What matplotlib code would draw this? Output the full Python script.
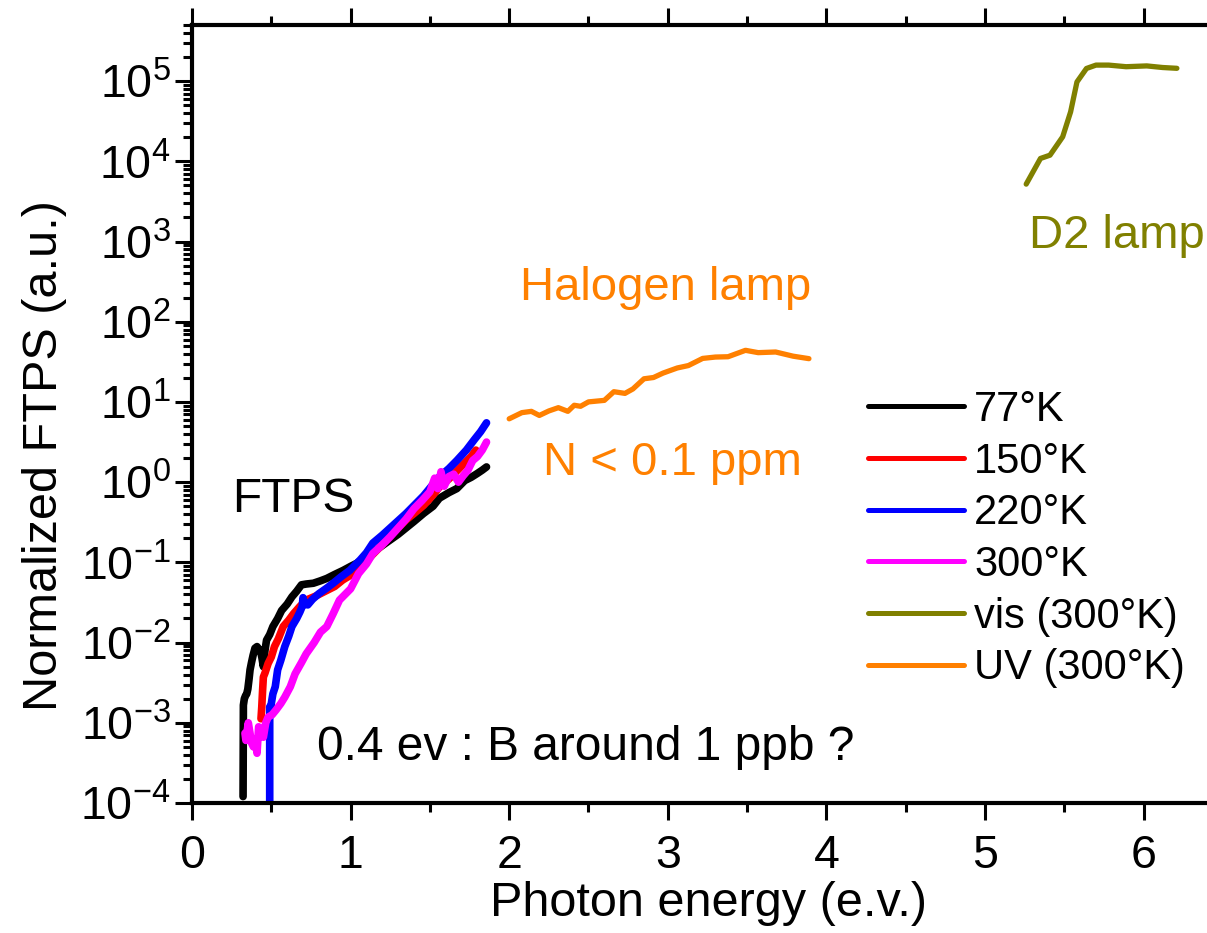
import numpy as np
import matplotlib
matplotlib.use('Agg')
import matplotlib.pyplot as plt
from matplotlib.ticker import LogLocator, MultipleLocator, NullFormatter

plt.rcParams['font.family'] = ['Liberation Sans', 'DejaVu Sans']
plt.rcParams['mathtext.fontset'] = 'custom'
plt.rcParams['mathtext.rm'] = 'Liberation Sans'
plt.rcParams['mathtext.it'] = 'Liberation Sans:italic'

# FTPS spectra (photon energy in eV, log10 of signal)
e_77 = [0.322, 0.324, 0.330, 0.338, 0.345, 0.352, 0.360, 0.366, 0.375, 0.385, 0.397,
        0.410, 0.420, 0.430, 0.440, 0.450, 0.460, 0.470, 0.490, 0.510, 0.540, 0.565,
        0.600, 0.630, 0.660, 0.690, 0.720, 0.765, 0.810, 0.850, 0.900, 0.953, 1.00,
        1.04, 1.10, 1.15, 1.20, 1.25, 1.30, 1.35, 1.40, 1.46, 1.52, 1.56, 1.62, 1.67,
        1.72, 1.76, 1.80, 1.83, 1.857]
lg_77 = [-3.92, -2.78, -2.70, -2.66, -2.64, -2.58, -2.45, -2.34, -2.25, -2.16, -2.07,
         -2.05, -2.08, -2.09, -2.18, -2.30, -2.10, -1.97, -1.90, -1.80, -1.70, -1.60,
         -1.52, -1.43, -1.36, -1.28, -1.27, -1.26, -1.23, -1.20, -1.15, -1.10, -1.05,
         -1.01, -0.93, -0.86, -0.79, -0.72, -0.65, -0.57, -0.49, -0.39, -0.30, -0.20,
         -0.13, -0.08, 0.02, 0.06, 0.11, 0.15, 0.19]

e_150 = [0.435, 0.440, 0.445, 0.450, 0.460, 0.480, 0.500, 0.520, 0.545, 0.575, 0.610,
         0.640, 0.680, 0.720, 0.780, 0.850, 0.900, 0.950, 1.00, 1.04, 1.10, 1.15, 1.20,
         1.25, 1.30, 1.35, 1.40, 1.46, 1.52, 1.56, 1.62, 1.67, 1.72, 1.76, 1.79]
lg_150 = [-2.95, -2.80, -2.60, -2.43, -2.38, -2.26, -2.18, -2.05, -1.95, -1.80, -1.72,
          -1.64, -1.55, -1.47, -1.42, -1.35, -1.30, -1.22, -1.16, -1.10, -0.98, -0.88,
          -0.78, -0.67, -0.57, -0.47, -0.39, -0.29, -0.16, -0.06, 0.04, 0.14, 0.24,
          0.32, 0.40]

e_220 = [0.490, 0.490, 0.495, 0.500, 0.510, 0.525, 0.540, 0.560, 0.585, 0.610, 0.630,
         0.660, 0.680, 0.695, 0.700, 0.710, 0.730, 0.760, 0.800, 0.850, 0.890, 0.940,
         0.995, 1.06, 1.10, 1.14, 1.20, 1.25, 1.30, 1.35, 1.40, 1.46, 1.51, 1.56, 1.62,
         1.67, 1.73, 1.78, 1.82, 1.857]
lg_220 = [-4.10, -2.80, -2.90, -2.76, -2.64, -2.55, -2.34, -2.22, -2.05, -1.92, -1.80,
          -1.70, -1.62, -1.55, -1.44, -1.52, -1.53, -1.46, -1.39, -1.32, -1.26, -1.18,
          -1.10, -0.97, -0.88, -0.76, -0.66, -0.57, -0.48, -0.39, -0.29, -0.17, -0.05,
          0.066, 0.17, 0.27, 0.40, 0.53, 0.63, 0.74]

e_300 = [0.334, 0.340, 0.355, 0.365, 0.375, 0.387, 0.400, 0.410, 0.420, 0.435, 0.450,
         0.465, 0.480, 0.505, 0.530, 0.560, 0.585, 0.620, 0.650, 0.690, 0.720, 0.770,
         0.810, 0.850, 0.890, 0.930, 1.00, 1.05, 1.10, 1.14, 1.20, 1.25, 1.30, 1.35,
         1.40, 1.45, 1.50, 1.53, 1.55, 1.57, 1.59, 1.62, 1.65, 1.68, 1.71, 1.74, 1.77,
         1.80, 1.83, 1.857]
lg_300 = [-3.13, -3.22, -3.00, -3.12, -3.25, -3.30, -3.20, -3.38, -3.05, -3.12, -3.18,
          -3.00, -2.93, -2.90, -2.84, -2.76, -2.68, -2.55, -2.39, -2.25, -2.14, -2.00,
          -1.87, -1.80, -1.64, -1.47, -1.33, -1.14, -1.02, -0.89, -0.78, -0.68, -0.57,
          -0.46, -0.33, -0.23, -0.12, 0.05, -0.08, 0.13, -0.05, 0.07, 0.10, 0.00, 0.08,
          0.15, 0.27, 0.32, 0.40, 0.50]

# halogen lamp (UV 300K) and D2 lamp (vis 300K)
e_uv = [2.00, 2.08, 2.14, 2.19, 2.25, 2.31, 2.37, 2.41, 2.45, 2.50, 2.60, 2.66, 2.73,
        2.78, 2.85, 2.91, 2.97, 3.06, 3.13, 3.22, 3.30, 3.38, 3.49, 3.57, 3.68, 3.79,
        3.89]
lg_uv = [0.79, 0.867, 0.883, 0.832, 0.888, 0.929, 0.883, 0.959, 0.946, 1.001, 1.02,
         1.128, 1.107, 1.162, 1.289, 1.305, 1.36, 1.424, 1.454, 1.543, 1.56, 1.564,
         1.644, 1.615, 1.623, 1.571, 1.54]

e_vis = [5.26, 5.35, 5.41, 5.49, 5.54, 5.58, 5.64, 5.70, 5.78, 5.89, 6.02, 6.12, 6.21]
lg_vis = [3.716, 4.036, 4.077, 4.306, 4.617, 4.99, 5.158, 5.20, 5.20, 5.18, 5.19, 5.17,
          5.16]

labels = ['77\u00b0K', '150\u00b0K', '220\u00b0K', '300\u00b0K', 'vis (300\u00b0K)', 'UV (300\u00b0K)']
colors = ['black', '#ff0000', '#0000ff', '#ff00ff', '#808000', '#ff8000']

fig = plt.figure(figsize=(12.07, 9.33), dpi=100)
ax = fig.add_axes([192 / 1207, 1 - 803 / 933, 1 - 192 / 1207, (803 - 25) / 933])

series = [(e_77, lg_77), (e_150, lg_150), (e_220, lg_220), (e_300, lg_300)]
handles = []
for (e, lg), c, lab in zip(series, colors[:4], labels[:4]):
    ax.plot(e, 10 ** np.array(lg), color=c, lw=5.5, solid_joinstyle='round', solid_capstyle='round')
    handles.append(plt.Line2D([], [], color=c, lw=3.6, solid_capstyle='round'))

ax.plot(e_vis, 10 ** np.array(lg_vis), color=colors[4], lw=3.8, solid_capstyle='round')
ax.plot(e_uv, 10 ** np.array(lg_uv), color=colors[5], lw=3.8, solid_capstyle='round')
handles.append(plt.Line2D([], [], color=colors[4], lw=3.6, solid_capstyle='round'))
handles.append(plt.Line2D([], [], color=colors[5], lw=3.6, solid_capstyle='round'))

ax.set_yscale('log')
ax.set_xlim(0, 6.4)
ax.set_ylim(1e-4, 10 ** 5.7)
ax.xaxis.set_major_locator(MultipleLocator(1))
ax.xaxis.set_minor_locator(MultipleLocator(0.5))
ax.yaxis.set_major_locator(LogLocator(base=10, numticks=20))
ax.yaxis.set_minor_locator(LogLocator(base=10, subs=np.arange(2, 10), numticks=20))
ax.yaxis.set_minor_formatter(NullFormatter())

for s in ['left', 'bottom', 'top']:
    ax.spines[s].set_linewidth(3)
ax.spines['right'].set_visible(False)
ax.tick_params(which='both', direction='out', top=True, right=False, width=2.2, labelsize=33.5)
ax.tick_params(which='major', length=12)
ax.tick_params(which='minor', length=6.5)
ax.tick_params(axis='x', pad=10)

ax.set_xlabel('Photon energy (e.v.)', fontsize=35, va='center', ha='center')
ax.set_ylabel('Normalized FTPS (a.u.)', fontsize=35, va='center', ha='center')
ax.xaxis.set_label_coords((708 - 192) / 1015, (803 - 903) / 778)
ax.yaxis.set_label_coords((45 - 192) / 1015, (803 - 456) / 778)

ax.text(0.251, 10 ** -0.374, 'FTPS', fontsize=34.5, color='black', ha='left', va='baseline')
ax.text(0.786, 10 ** -3.466, '0.4 ev : B around 1 ppb ?', fontsize=34.5, color='black', ha='left', va='baseline')
ax.text(2.067, 10 ** 2.27, 'Halogen lamp', fontsize=34, color='#ff8000', ha='left', va='baseline')
ax.text(2.216, 10 ** 0.092, 'N < 0.1 ppm', fontsize=34, color='#ff8000', ha='left', va='baseline')
ax.text(5.28, 10 ** 2.918, 'D2 lamp', fontsize=34, color='#808000', ha='left', va='baseline')

ax.legend(handles, labels, loc='upper left', bbox_to_anchor=(868 / 1207, 1 - 390 / 933),
          bbox_transform=fig.transFigure, frameon=False, fontsize=30, handlelength=2.3,
          handletextpad=0.25, labelspacing=0.28, borderpad=0, borderaxespad=0)

fig.savefig('out.png', dpi=100)
